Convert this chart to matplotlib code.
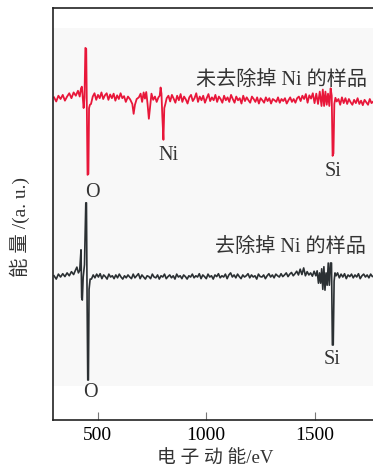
import matplotlib.pyplot as plt
from matplotlib.patches import Rectangle

plt.rcParams['font.family'] = ['Liberation Serif', 'Noto Sans CJK SC']

# (electron kinetic energy in eV, signal in a.u.)
red_pts = [
    (300, 0.6), (310, -0.4), (320, 1.0), (330, 0.2), (340, 1.2), (350, -0.2),
    (360, 0.8), (370, 1.6), (380, 0.4), (390, 1.8), (400, 1.0), (410, 2.2),
    (418, 0.8), (424, 2.8), (428, 3.2), (432, 0.5), (436, -2.0), (440, 0.5),
    (444, 12.6), (448, 12.4), (451, -3.0), (454, -18.2), (458, -18.0),
    (461, -2.0), (465, -1.2), (470, -1.0), (478, 0.8), (486, 1.6), (494, 0.0),
    (502, 1.2), (510, 0.4), (518, 1.8), (526, 0.2), (534, 1.1), (542, 1.6),
    (550, 0.0), (558, 1.3), (566, 0.4), (574, 1.5), (582, -0.2), (590, 1.1),
    (598, 0.2), (606, 1.6), (614, 0.4), (622, 0.9), (630, -0.5), (640, 0.8),
    (650, 0.1), (660, -1.0), (666, -3.4), (672, -1.2), (680, 0.2), (690, 0.6),
    (698, 1.5), (705, -0.5), (712, 1.8), (718, 0.3), (724, 1.9), (730, -1.0),
    (736, -4.6), (742, -1.5), (748, 1.5), (756, 0.0), (764, 0.8), (772, -0.5),
    (780, 0.6), (786, 1.0), (790, 3.0), (794, 1.5), (798, -4.0), (803, -9.7),
    (807, -2.0), (812, -1.0), (818, 0.4), (826, 1.0), (834, -0.4), (842, 1.2),
    (850, 0.3), (858, -0.7), (866, 1.0), (874, -0.1), (882, 1.4), (890, -0.5),
    (898, 0.8), (906, 0.1), (914, -0.9), (922, 0.6), (930, 1.2), (938, -0.3),
    (946, 0.4), (954, 1.6), (962, -0.5), (970, 0.8), (978, -0.1), (986, 1.0),
    (994, -0.7), (1002, 0.4), (1010, 1.4), (1018, -0.3), (1026, 0.6),
    (1034, -0.1), (1042, 1.2), (1050, -0.5), (1058, 0.8), (1066, 0.2),
    (1074, -0.7), (1082, 1.0), (1090, -0.1), (1098, 0.6), (1106, -0.5),
    (1114, 1.2), (1122, 0.2), (1130, -0.7), (1138, 0.8), (1146, -0.1),
    (1154, 0.4), (1162, -0.9), (1170, 1.0), (1178, -0.3), (1186, 0.6),
    (1194, -0.1), (1202, -0.7), (1210, 0.8), (1218, 0.2), (1226, -0.5),
    (1234, 0.6), (1242, -0.9), (1250, 0.4), (1258, -0.1), (1266, -0.7),
    (1274, 0.6), (1282, -0.3), (1290, 0.4), (1298, -0.9), (1306, 0.2),
    (1314, -0.1), (1322, -0.5), (1330, 0.6), (1338, -0.7), (1346, 0.2),
    (1354, -0.3), (1362, 0.4), (1370, -0.9), (1378, -0.1), (1386, 0.6),
    (1394, -0.5), (1402, 0.2), (1410, -0.7), (1418, 0.4), (1426, 0.8),
    (1434, -0.3), (1442, 1.0), (1450, 0.2), (1458, 1.4), (1466, -0.7),
    (1474, 1.1), (1482, 0.3), (1490, 1.6), (1498, -0.8), (1506, 1.5),
    (1514, -1.0), (1522, 2.0), (1530, -1.5), (1536, 2.5), (1542, -1.5),
    (1548, 2.0), (1554, -1.2), (1560, 1.5), (1566, -1.5), (1572, 2.8),
    (1577, 1.0), (1581, -13.6), (1585, -13.0), (1589, -1.0), (1594, 0.5),
    (1600, -0.4), (1608, 0.2), (1616, -1.2), (1624, 0.6), (1632, -0.8),
    (1640, 0.4), (1648, -1.0), (1656, 0.2), (1664, -0.6), (1672, -1.2),
    (1680, 0.0), (1688, -0.8), (1696, 0.4), (1704, -1.0), (1712, -0.2),
    (1720, -1.3), (1728, 0.0), (1736, -0.6), (1744, -1.2), (1752, 0.2),
    (1760, -0.8), (1768, -0.4), (1776, -1.0), (1785, -0.6),
]

blk_pts = [
    (300, 0.3), (310, -0.5), (320, 0.7), (330, 0.0), (340, 0.8), (350, 0.1),
    (360, 1.0), (370, 0.3), (380, 1.3), (390, 0.6), (398, 1.6), (405, 2.4),
    (412, 1.0), (418, 1.6), (424, 6.6), (427, -5.0), (430, -5.6), (434, 0.0),
    (440, 3.0), (446, 18.0), (449, 18.0), (452, -6.0), (455, -25.0),
    (458, -25.0), (461, -3.0), (466, -0.5), (472, -0.5), (480, 0.5),
    (488, -0.2), (496, 0.7), (504, 0.0), (512, 0.8), (520, -0.4), (528, 0.5),
    (536, 0.1), (544, -0.5), (552, 0.7), (560, 0.0), (568, 0.3), (576, -0.4),
    (584, 0.5), (592, -0.2), (600, 0.7), (608, 0.0), (616, -0.5), (624, 0.3),
    (632, -0.2), (640, 0.5), (648, 0.0), (656, -0.4), (664, 0.7), (672, -0.2),
    (680, 0.3), (688, 0.8), (696, -0.4), (704, 0.5), (712, 0.0), (720, -0.5),
    (728, 0.3), (736, 0.1), (744, -0.4), (752, 0.7), (760, 0.0), (768, -0.2),
    (776, 0.5), (784, -0.5), (792, 0.3), (800, 0.0), (808, 0.7), (816, -0.4),
    (824, 0.1), (832, 0.5), (840, -0.2), (848, 0.3), (856, -0.5), (864, 0.7),
    (872, 0.0), (880, 0.3), (888, -0.4), (896, 0.5), (904, 0.1), (912, -0.5),
    (920, 0.3), (928, 0.0), (936, 0.7), (944, -0.2), (952, 0.3), (960, 0.0),
    (968, 0.8), (976, -0.4), (984, 0.5), (992, 0.1), (1000, -0.4), (1008, 0.7),
    (1016, 0.0), (1024, 0.3), (1032, -0.5), (1040, 0.5), (1048, 0.1),
    (1056, 0.8), (1064, -0.2), (1072, 0.3), (1080, 0.0), (1088, 0.7),
    (1096, -0.4), (1104, 0.5), (1112, 1.0), (1120, 0.0), (1128, 0.5),
    (1136, -0.2), (1144, 0.7), (1152, 0.1), (1160, -0.4), (1168, 0.5),
    (1176, 0.0), (1184, 0.3), (1192, 0.8), (1200, -0.2), (1208, 0.5),
    (1216, 0.0), (1224, 0.3), (1232, -0.5), (1240, 0.7), (1248, 0.1),
    (1256, 0.0), (1264, 0.5), (1272, -0.4), (1280, 0.3), (1288, 0.8),
    (1296, 0.0), (1304, 0.5), (1312, -0.2), (1320, 0.7), (1328, 0.3),
    (1336, 0.0), (1344, 0.8), (1352, 0.1), (1360, 0.5), (1368, 1.0),
    (1376, 0.1), (1384, 0.7), (1392, 1.1), (1400, 0.3), (1408, 0.8),
    (1416, 1.4), (1424, 0.5), (1432, 1.9), (1440, 0.6), (1448, 2.2),
    (1456, 0.3), (1464, 1.3), (1472, 0.5), (1480, 1.0), (1488, 0.2),
    (1496, 1.4), (1504, 0.3), (1510, 1.5), (1516, -1.5), (1521, 1.0),
    (1526, -1.5), (1531, 2.0), (1536, -3.0), (1541, 2.5), (1546, -3.2),
    (1551, 1.0), (1556, -2.0), (1561, 3.4), (1566, -2.0), (1571, 3.4),
    (1576, 3.4), (1580, -16.5), (1584, -16.5), (1588, -1.0), (1592, 1.0),
    (1597, 0.3), (1604, 1.0), (1612, -0.2), (1620, 0.7), (1628, 0.0),
    (1636, 0.8), (1644, -0.4), (1652, 0.5), (1660, 0.1), (1668, 0.7),
    (1676, -0.2), (1684, 0.5), (1692, 0.0), (1700, 0.8), (1708, -0.4),
    (1716, 0.3), (1724, 0.7), (1732, 0.0), (1740, 0.5), (1748, -0.2),
    (1756, 0.7), (1764, 0.1), (1772, 0.3), (1780, 0.0), (1785, 0.3),
]

red_offset = 77.7
blk_offset = 34.7

red_x = [p[0] for p in red_pts]
red_y = [p[1] + red_offset for p in red_pts]
blk_x = [p[0] for p in blk_pts]
blk_y = [p[1] + blk_offset for p in blk_pts]

fig = plt.figure(figsize=(3.73, 4.68), dpi=100)
ax = fig.add_axes([0.142, 0.1026, 0.868, 0.8804])

ax.add_patch(Rectangle((0, 0.083), 1, 0.868, transform=ax.transAxes,
                       facecolor='#f8f8f8', edgecolor='none', zorder=0))

ax.plot(red_x, red_y, color='#e8173a', lw=1.3, zorder=2)
ax.plot(blk_x, blk_y, color='#2b3033', lw=1.2, zorder=2)

ax.set_xlim(295, 1784)
ax.set_ylim(0, 100)
ax.set_xticks([500, 1000, 1500])
ax.set_yticks([])
ax.tick_params(axis='x', direction='in', length=6, width=0.8, color='#777777',
               labelsize=14, pad=5)
ax.spines['right'].set_visible(False)
for s in ['left', 'bottom', 'top']:
    ax.spines[s].set_linewidth(1.2)
    ax.spines[s].set_color('#222222')

tc = '#333333'
ax.text(1345, 82.5, '未去除掉 Ni 的样品', ha='center', va='center', fontsize=14.5, color=tc)
ax.text(1386, 42.0, '去除掉 Ni 的样品', ha='center', va='center', fontsize=14.5, color=tc)
ax.text(826, 64.3, 'Ni', ha='center', va='center', fontsize=14.5, color=tc)
ax.text(1584, 60.2, 'Si', ha='center', va='center', fontsize=14.5, color=tc)
ax.text(477, 55.3, 'O', ha='center', va='center', fontsize=14.5, color=tc)
ax.text(1579, 14.6, 'Si', ha='center', va='center', fontsize=14.5, color=tc)
ax.text(467, 6.6, 'O', ha='center', va='center', fontsize=14.5, color=tc)

ax.set_xlabel('电 子 动 能/eV', fontsize=13.5, color=tc, labelpad=5)
fig.text(0.054, 0.515, '能 量 /(a. u.)', rotation=90, ha='center', va='center',
         fontsize=14, color=tc)

fig.savefig('out.png', dpi=100)
